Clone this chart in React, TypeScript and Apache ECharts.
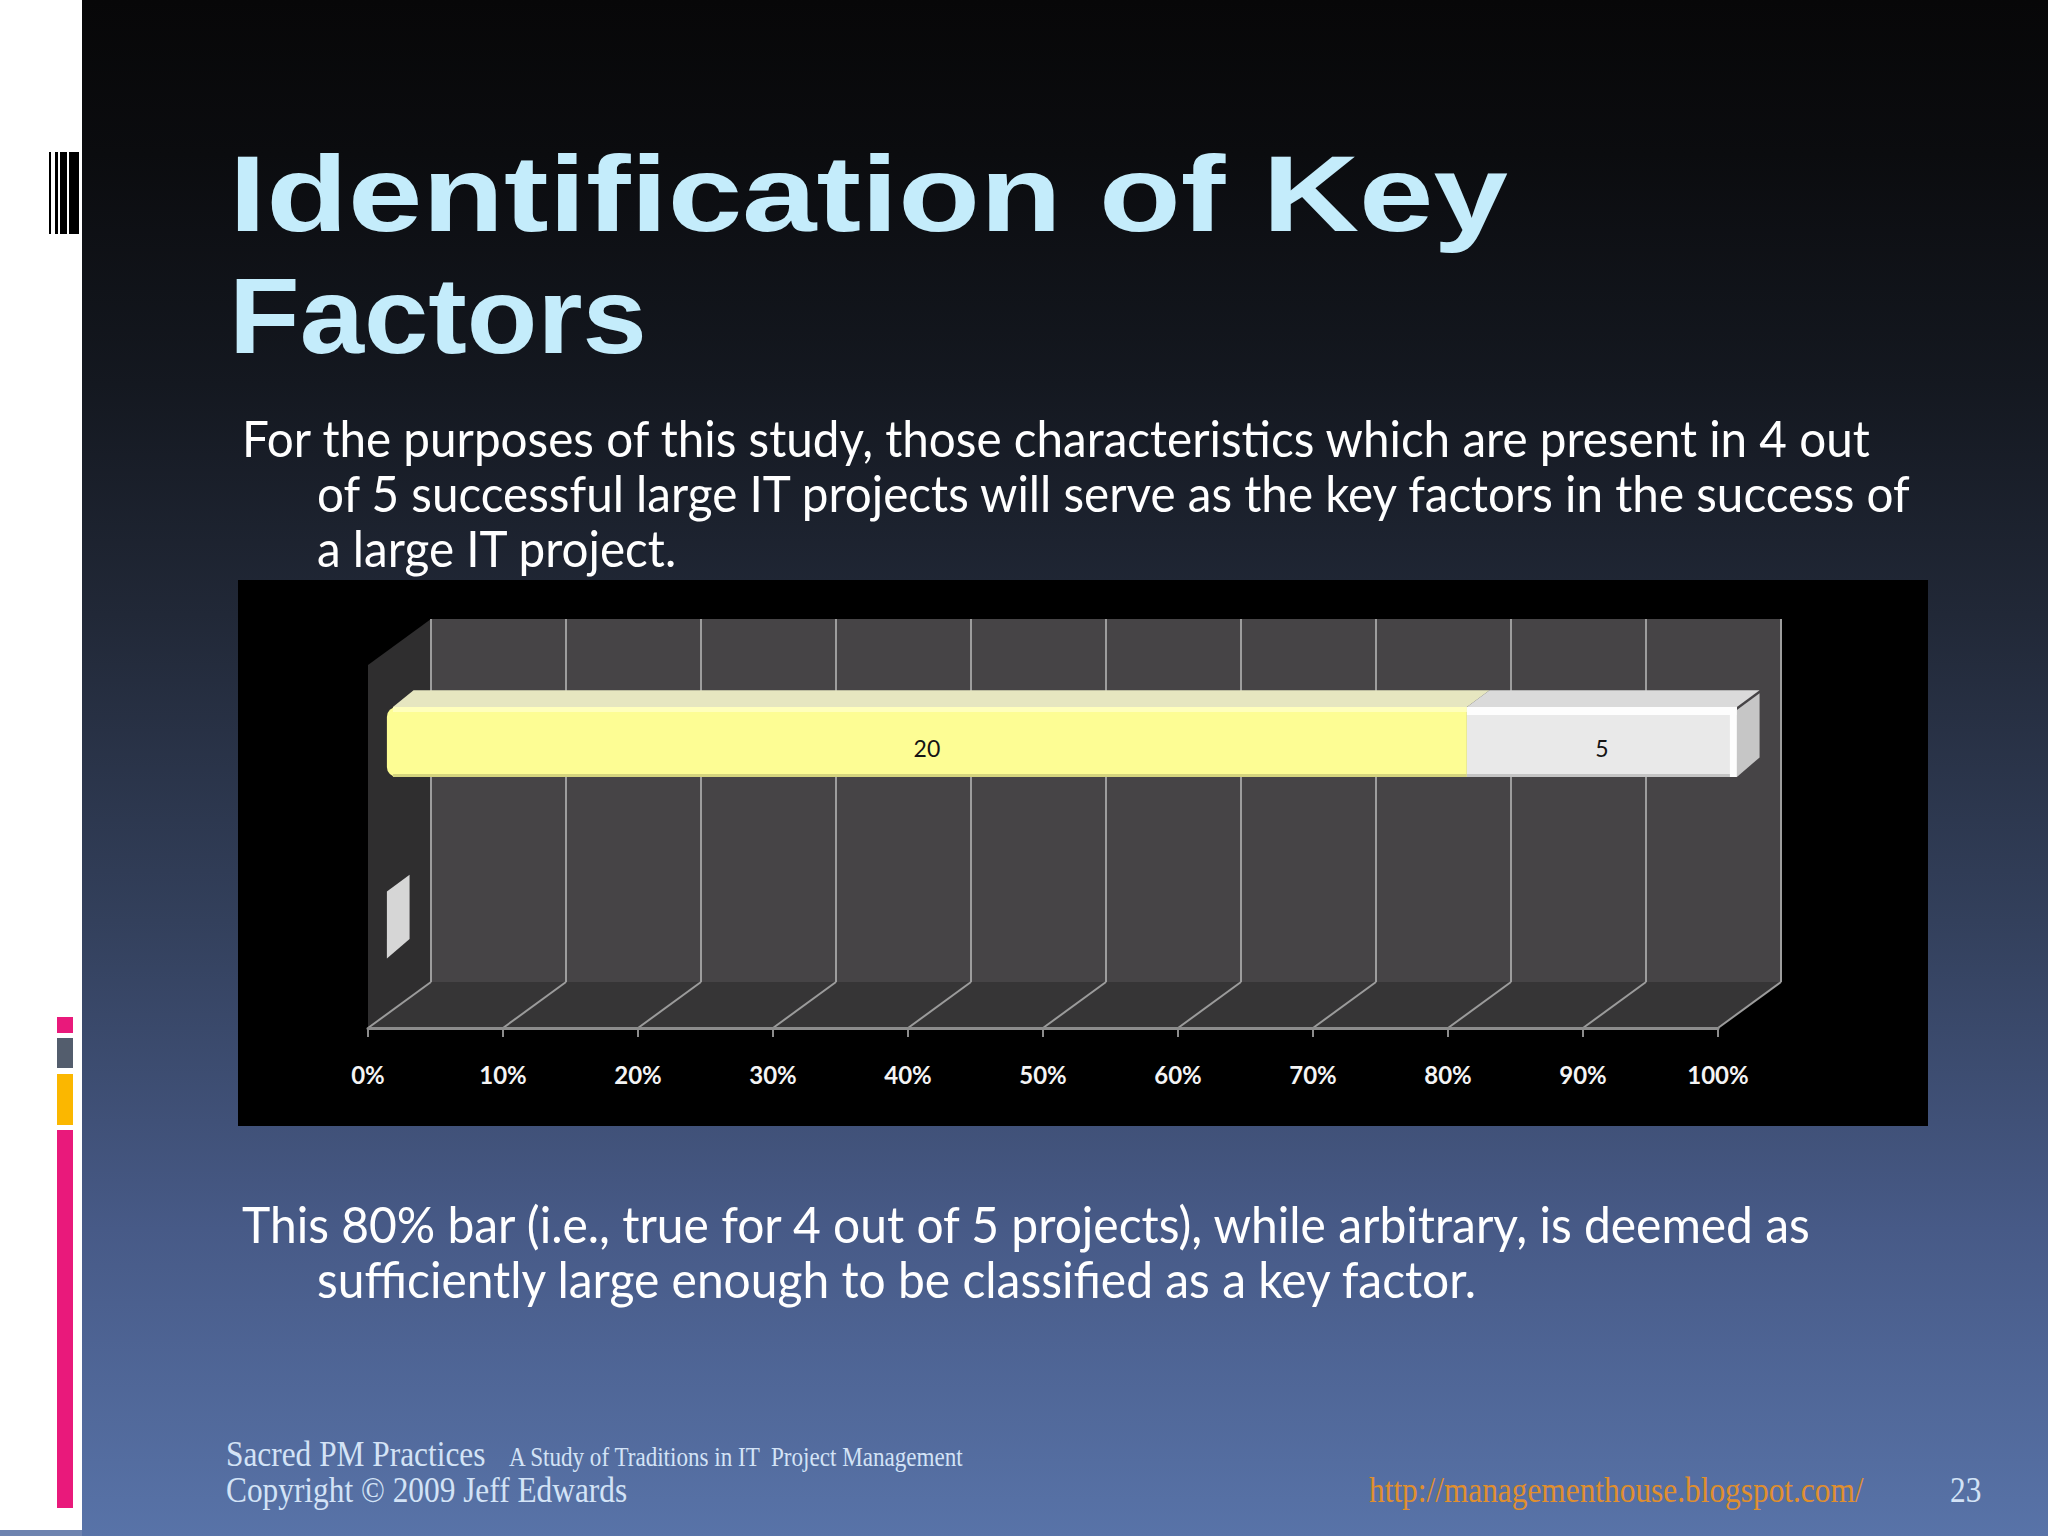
import React, { useEffect, useRef } from "react";
import * as echarts from "echarts";

// ---------- data ----------
const CATEGORIES = ["Key factor", "Other"];
const SERIES_NAMES = ["Present", "Not present"];
const PRESENT = [20, 0];
const NOT_PRESENT = [5, 0];
const TICKS = [0, 10, 20, 30, 40, 50, 60, 70, 80, 90, 100];

const TITLE_LINES = ["Identification of Key", "Factors"];
const PARA1 = [
  "For the purposes of this study, those characteristics which are present in 4 out",
  "of 5 successful large IT projects will serve as the key factors in the success of",
  "a large IT project.",
];
const PARA2 = [
  "This 80% bar (i.e., true for 4 out of 5 projects), while arbitrary, is deemed as",
  "sufficiently large enough to be classified as a key factor.",
];
const FOOTER_TITLE = "Sacred PM Practices";
const FOOTER_SUB = "A Study of Traditions in IT  Project Management";
const FOOTER_COPY = "Copyright \u00a9 2009 Jeff Edwards";
const FOOTER_URL = "http://managementhouse.blogspot.com/";
const PAGE_NO = "23";

// ---------- layout / style ----------
const W = 2048;
const H = 1536;
const FRONT = { left: 368, top: 665, width: 1350, height: 363 };
const BACK = { left: 431, top: 619, width: 1350, height: 363 };
const DX = BACK.left - FRONT.left;
const DY = BACK.top + BACK.height - (FRONT.top + FRONT.height);
const BAR_OFF = 0.3;
const BAR_DEPTH = 0.36;
const BAR_FACE = 0.386;

const SERIES_COLORS = [
  { front: "#fdfd94", top: "#e6e6c0", side: "#d9d98e", hi: "#ffffbc", lo: "#d4d47e" },
  { front: "#e9e9e9", top: "#dadada", side: "#cfcfcf", hi: "#fdfdfd", lo: "#c4c4c4" },
];

const CENTRAL: Record<string, number> = {
  Lato: 0.387,
  "Liberation Sans": 0.3465,
  "Liberation Serif": 0.3375,
};

let measureCtx: CanvasRenderingContext2D | null = null;
function measure(text: string, size: number, family: string, weight: string) {
  if (!measureCtx) measureCtx = document.createElement("canvas").getContext("2d");
  measureCtx!.font = `${weight} ${size}px "${family}"`;
  return measureCtx!.measureText(text).width;
}

function textEl(
  text: string,
  x: number,
  baseline: number,
  size: number,
  family: string,
  weight: string,
  color: string,
  scaleX: number
) {
  return {
    type: "text",
    x,
    y: baseline - (CENTRAL[family] ?? 0.35) * size,
    scaleX,
    z: 10,
    silent: true,
    style: {
      text,
      x: 0,
      y: 0,
      fontSize: size,
      fontFamily: family,
      fontWeight: weight,
      fill: color,
      align: "left",
      verticalAlign: "middle",
    },
  };
}

function fit(text: string, target: number, size: number, family: string, weight: string) {
  const w = measure(text, size, family, weight);
  return w > 0 ? target / w : 1;
}

export default function App() {
  const ref = useRef<HTMLDivElement>(null);

  useEffect(() => {
    document.body.style.margin = "0";
    document.body.style.overflow = "hidden";
    const chart = echarts.init(ref.current!, null, { renderer: "svg", width: W, height: H });

    // stacked 100% items
    const seriesValues = [PRESENT, NOT_PRESENT];
    const totals = CATEGORIES.map((_, i) => seriesValues.reduce((s, v) => s + v[i], 0));
    const barItems: number[][] = [];
    CATEGORIES.forEach((_, i) => {
      let acc = 0;
      seriesValues.forEach((vals, s) => {
        const t = totals[i];
        const start = t ? (acc / t) * 100 : 0;
        acc += vals[i];
        const end = t ? (acc / t) * 100 : 0;
        barItems.push([start, end, i, s, vals[i], s === seriesValues.length - 1 ? 1 : 0]);
      });
    });

    // text scales
    const titleSize = 107;
    const tS1 = fit(TITLE_LINES[0], 1279, titleSize, "Liberation Sans", "bold");
    const tS2 = fit(TITLE_LINES[1], 418, titleSize, "Liberation Sans", "bold");
    const bodySize = 51;
    const p1S = fit(PARA1[0], 1632, bodySize, "Lato", "normal");
    const p2S = fit(PARA2[0], 1572, bodySize, "Lato", "normal");
    const footSize = 36;
    const fS = fit(FOOTER_COPY, 401, footSize, "Liberation Serif", "normal");
    const subS = fit(FOOTER_SUB, 456, 28, "Liberation Serif", "normal");

    const titleColor = "#c4ecfb";
    const footColor = "#d3e3f6";

    const graphics: any[] = [
      // slide background
      {
        type: "rect",
        z: -20,
        silent: true,
        shape: { x: 82, y: 0, width: W - 82, height: H },
        style: {
          fill: {
            type: "linear",
            x: 0,
            y: 0,
            x2: 0,
            y2: 1,
            colorStops: [
              { offset: 0, color: "#070708" },
              { offset: 0.1, color: "#0b0c0f" },
              { offset: 0.25, color: "#141820" },
              { offset: 0.4, color: "#212837" },
              { offset: 0.6, color: "#33405c" },
              { offset: 0.8, color: "#475a87" },
              { offset: 1, color: "#5873a8" },
            ],
          },
        },
      },
      { type: "rect", z: -20, silent: true, shape: { x: 0, y: 0, width: 82, height: H }, style: { fill: "#ffffff" } },
      { type: "rect", z: -19, silent: true, shape: { x: 0, y: 1530, width: 82, height: 6 }, style: { fill: "#6d83b0" } },
      // barcode
      { type: "rect", z: -19, silent: true, shape: { x: 49, y: 152, width: 2, height: 82 }, style: { fill: "#000" } },
      { type: "rect", z: -19, silent: true, shape: { x: 55, y: 152, width: 3, height: 82 }, style: { fill: "#000" } },
      { type: "rect", z: -19, silent: true, shape: { x: 60, y: 152, width: 7, height: 82 }, style: { fill: "#000" } },
      { type: "rect", z: -19, silent: true, shape: { x: 69, y: 152, width: 10, height: 82 }, style: { fill: "#000" } },
      // left colour blocks
      { type: "rect", z: -19, silent: true, shape: { x: 57, y: 1017, width: 16, height: 16 }, style: { fill: "#e9197b" } },
      { type: "rect", z: -19, silent: true, shape: { x: 57, y: 1038, width: 16, height: 30 }, style: { fill: "#535d6d" } },
      { type: "rect", z: -19, silent: true, shape: { x: 57, y: 1074, width: 16, height: 51 }, style: { fill: "#fbb700" } },
      { type: "rect", z: -19, silent: true, shape: { x: 57, y: 1130, width: 16, height: 378 }, style: { fill: "#e9197b" } },
      // chart black box
      { type: "rect", z: -15, silent: true, shape: { x: 238, y: 580, width: 1690, height: 546 }, style: { fill: "#000000" } },
      // title
      textEl(TITLE_LINES[0], 229, 231, titleSize, "Liberation Sans", "bold", titleColor, tS1),
      textEl(TITLE_LINES[1], 229, 353, titleSize, "Liberation Sans", "bold", titleColor, tS2),
      // paragraphs
      textEl(PARA1[0], 242, 457, bodySize, "Lato", "normal", "#ffffff", p1S),
      textEl(PARA1[1], 317, 512, bodySize, "Lato", "normal", "#ffffff", p1S),
      textEl(PARA1[2], 317, 567, bodySize, "Lato", "normal", "#ffffff", p1S),
      textEl(PARA2[0], 242, 1243, bodySize, "Lato", "normal", "#ffffff", p2S),
      textEl(PARA2[1], 317, 1298, bodySize, "Lato", "normal", "#ffffff", p2S),
      // footer
      textEl(FOOTER_TITLE, 226, 1466, footSize, "Liberation Serif", "normal", footColor, fS),
      textEl(FOOTER_SUB, 509, 1466, 28, "Liberation Serif", "normal", footColor, subS),
      textEl(FOOTER_COPY, 226, 1502, footSize, "Liberation Serif", "normal", footColor, fS),
      textEl(FOOTER_URL, 1369, 1502, footSize, "Liberation Serif", "normal", "#e08f2e", fS),
      textEl(PAGE_NO, 1950, 1502, footSize, "Liberation Serif", "normal", footColor, fS),
    ];

    const option: any = {
      animation: false,
      backgroundColor: "transparent",
      graphic: { elements: graphics },
      grid: [
        {
          left: BACK.left,
          top: BACK.top,
          width: BACK.width,
          height: BACK.height,
          show: true,
          backgroundColor: "#464446",
          borderWidth: 0,
          containLabel: false,
        },
        {
          left: FRONT.left,
          top: FRONT.top,
          width: FRONT.width,
          height: FRONT.height,
          show: false,
          containLabel: false,
        },
      ],
      xAxis: [
        {
          gridIndex: 0,
          type: "value",
          min: 0,
          max: 100,
          interval: 10,
          z: 4,
          axisLine: { show: false },
          axisTick: { show: false },
          axisLabel: { show: false },
          splitLine: { show: true, lineStyle: { color: "#9d9d9d", width: 2 } },
        },
        {
          gridIndex: 1,
          type: "value",
          min: 0,
          max: 100,
          interval: 10,
          z: 5,
          position: "bottom",
          axisLine: { show: true, lineStyle: { color: "#8c8c8c", width: 3 } },
          axisTick: { show: true, length: 9, lineStyle: { color: "#8c8c8c", width: 2 } },
          axisLabel: {
            show: true,
            formatter: "{value}%",
            color: "#f4f4f4",
            fontSize: 24,
            fontWeight: "bold",
            fontFamily: "Lato",
            margin: 34,
          },
          splitLine: { show: false },
        },
      ],
      yAxis: [
        { gridIndex: 0, type: "category", data: CATEGORIES, inverse: true, show: false },
        { gridIndex: 1, type: "category", data: CATEGORIES, inverse: true, show: false },
      ],
      series: [
        // left wall + floor
        {
          type: "custom",
          name: "frame",
          xAxisIndex: 1,
          yAxisIndex: 1,
          z: 1,
          clip: false,
          silent: true,
          data: [[0, 0]],
          encode: { x: 0, y: 1 },
          renderItem: (params: any) => {
            const cs = params.coordSys;
            const fx = cs.x;
            const fy = cs.y;
            const fb = cs.y + cs.height;
            const fr = cs.x + cs.width;
            return {
              type: "group",
              children: [
                {
                  type: "polygon",
                  shape: {
                    points: [
                      [fx, fy],
                      [fx + DX, fy + DY],
                      [fx + DX, fb + DY],
                      [fx, fb],
                    ],
                  },
                  style: { fill: "#2f2e2f" },
                },
                {
                  type: "polygon",
                  shape: {
                    points: [
                      [fx, fb],
                      [fr, fb],
                      [fr + DX, fb + DY],
                      [fx + DX, fb + DY],
                    ],
                  },
                  style: { fill: "#363536" },
                },
              ],
            };
          },
        },
        // floor grid lines
        {
          type: "custom",
          name: "floorLines",
          xAxisIndex: 1,
          yAxisIndex: 1,
          z: 2,
          clip: false,
          silent: true,
          data: TICKS.map((t) => [t, 0]),
          encode: { x: 0, y: 1 },
          renderItem: (params: any, api: any) => {
            const cs = params.coordSys;
            const fb = cs.y + cs.height;
            const p = api.coord([api.value(0), 0]);
            return {
              type: "line",
              shape: { x1: p[0], y1: fb, x2: p[0] + DX, y2: fb + DY },
              style: { stroke: "#9b9b9b", lineWidth: 2 },
            };
          },
        },
        // 3D stacked bars
        {
          type: "custom",
          name: SERIES_NAMES.join(" / "),
          xAxisIndex: 1,
          yAxisIndex: 1,
          z: 6,
          clip: false,
          data: barItems,
          encode: { x: [0, 1], y: 2 },
          renderItem: (params: any, api: any) => {
            const start = api.value(0);
            const end = api.value(1);
            const cat = api.value(2);
            const s = api.value(3);
            const raw = api.value(4);
            const last = api.value(5) === 1;
            const c = SERIES_COLORS[s];
            const p0 = api.coord([start, cat]);
            const p1 = api.coord([end, cat]);
            const band = api.size([0, 1])[1];
            const offX = DX * BAR_OFF;
            const offY = DY * BAR_OFF;
            const ddx = DX * BAR_DEPTH;
            const ddy = DY * BAR_DEPTH;
            const h = band * BAR_FACE;
            const x0 = p0[0] + offX;
            const x1 = p1[0] + offX;
            const cy = p0[1] + offY;
            const yT = cy - h / 2;
            const yB = cy + h / 2;
            const wdt = x1 - x0;
            const children: any[] = [];
            if (wdt > 0.5) {
              const first = start === 0;
              children.push({
                type: "polygon",
                shape: {
                  points: [
                    [x0 + (first ? 6 : 0), yT],
                    [x1, yT],
                    [x1 + ddx, yT + ddy],
                    [x0 + ddx + (first ? 4 : 0), yT + ddy],
                  ],
                },
                style: { fill: c.top },
              });
              children.push({
                type: "rect",
                shape: { x: x0, y: yT, width: wdt, height: h, r: first ? [10, 0, 0, 10] : 0 },
                style: { fill: c.front },
              });
              children.push({
                type: "rect",
                shape: { x: x0 + (first ? 6 : 0), y: yT, width: wdt - (first ? 6 : 0), height: s === 1 ? 8 : 5 },
                style: { fill: c.hi },
              });
              children.push({
                type: "rect",
                shape: { x: x0 + (first ? 6 : 0), y: yB - 3, width: wdt - (first ? 6 : 0), height: 3 },
                style: { fill: c.lo },
              });
              if (last) {
                children.push({
                  type: "rect",
                  shape: { x: x1 - 7, y: yT, width: 7, height: h },
                  style: { fill: c.hi },
                });
              }
              if (raw > 0) {
                children.push({
                  type: "text",
                  style: {
                    text: String(raw),
                    x: (x0 + x1) / 2,
                    y: cy + 6,
                    align: "center",
                    verticalAlign: "middle",
                    fontSize: 23,
                    fontFamily: "Lato",
                    fill: "#141414",
                  },
                });
              }
            }
            if (last) {
              children.push({
                type: "polygon",
                shape: {
                  points: [
                    [x1, yT + 3],
                    [x1 + ddx, yT + ddy + 3],
                    [x1 + ddx, yB + ddy - 3],
                    [x1, yB],
                  ],
                },
                style: { fill: wdt > 0.5 ? "#c6c6c6" : "#d6d6d6" },
              });
            }
            return { type: "group", children };
          },
        },
      ],
    };

    chart.setOption(option);
    return () => chart.dispose();
  }, []);

  return <div ref={ref} style={{ width: W, height: H }} />;
}
